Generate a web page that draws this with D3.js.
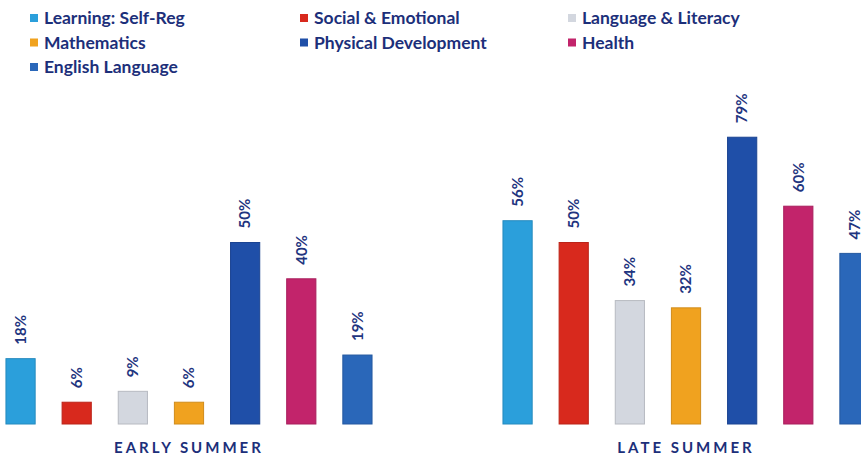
<!DOCTYPE html>
<html lang="en">
<head>
<meta charset="utf-8">
<title>Summer skills</title>
<style>
  body { margin: 0; background: #fff; }
  svg text { font-family: Lato, "Open Sans", sans-serif; }
  .legend text { font-size: 17.5px; font-weight: 700; fill: #1c2f7a; }
  .val { font-size: 15px; font-weight: 700; fill: #1f3580; }
  .grp { font-size: 15px; font-weight: 700; fill: #1c2f7a; letter-spacing: 3px; }
</style>
</head>
<body>
<svg id="chart" width="861" height="457"></svg>
<script src="https://cdn.jsdelivr.net/npm/d3@7"></script>
<script>
// data
var groups = ["EARLY SUMMER", "LATE SUMMER"];
var series = ["Learning: Self-Reg", "Social & Emotional", "Language & Literacy",
              "Mathematics", "Physical Development", "Health", "English Language"];
var earlySummer = [18, 6, 9, 6, 50, 40, 19];
var lateSummer  = [56, 50, 34, 32, 79, 60, 47];

var colors = ["#2b9fdb", "#d8291d", "#d3d7df", "#f0a21f", "#1f4fa8", "#c2246b", "#2a67b9"];

var svg = d3.select("#chart"),
    baseline = 424;

var x0 = d3.scaleBand()
    .domain(groups)
    .range([-21, 896])
    .paddingInner(0.155);

var x1 = d3.scaleBand()
    .domain(series)
    .range([0, x0.bandwidth()])
    .padding(0.48);

var y = d3.scaleLinear()
    .domain([0, 100])
    .range([baseline, baseline - 363]);

var color = d3.scaleOrdinal().domain(series).range(colors);

var rows = groups.map(function(g, i) {
  var vals = i === 0 ? earlySummer : lateSummer;
  return { group: g, values: series.map(function(s, j) { return { key: s, value: vals[j] }; }) };
});

var grp = svg.selectAll(".group")
  .data(rows)
  .enter().append("g")
    .attr("class", "group")
    .attr("transform", function(d) { return "translate(" + x0(d.group) + ",0)"; });

grp.selectAll("rect")
  .data(function(d) { return d.values; })
  .enter().append("rect")
    .attr("x", function(d) { return x1(d.key); })
    .attr("y", function(d) { return y(d.value); })
    .attr("width", x1.bandwidth())
    .attr("height", function(d) { return baseline - y(d.value); })
    .attr("fill", function(d) { return color(d.key); })
    .attr("stroke", function(d) { return d3.color(color(d.key)).darker(0.4); })
    .attr("stroke-width", 1);

// rotated value labels
grp.selectAll(".val")
  .data(function(d) { return d.values; })
  .enter().append("text")
    .attr("class", "val")
    .attr("transform", function(d) {
      return "translate(" + (x1(d.key) + x1.bandwidth() / 2) + "," + (y(d.value) - 14) + ") rotate(-90)";
    })
    .attr("dy", "0.35em")
    .text(function(d) { return d.value + "%"; });

// group labels
svg.selectAll(".grp")
  .data(groups)
  .enter().append("text")
    .attr("class", "grp")
    .attr("x", function(d) { return x0(d) + x0.bandwidth() / 2; })
    .attr("y", 453)
    .attr("text-anchor", "middle")
    .text(function(d) { return d; });

// legend, 3 columns
var legX = [30, 300, 568];
var legend = svg.append("g").attr("class", "legend")
  .selectAll("g")
  .data(series)
  .enter().append("g")
    .attr("transform", function(d, i) {
      return "translate(" + legX[i % 3] + "," + (18 + Math.floor(i / 3) * 24.5) + ")";
    });

legend.append("rect")
    .attr("x", 0)
    .attr("y", -4)
    .attr("width", 8)
    .attr("height", 8)
    .attr("fill", function(d) { return color(d); });

legend.append("text")
    .attr("x", 14)
    .attr("dy", "0.35em")
    .text(function(d) { return d; });
</script>
</body>
</html>
